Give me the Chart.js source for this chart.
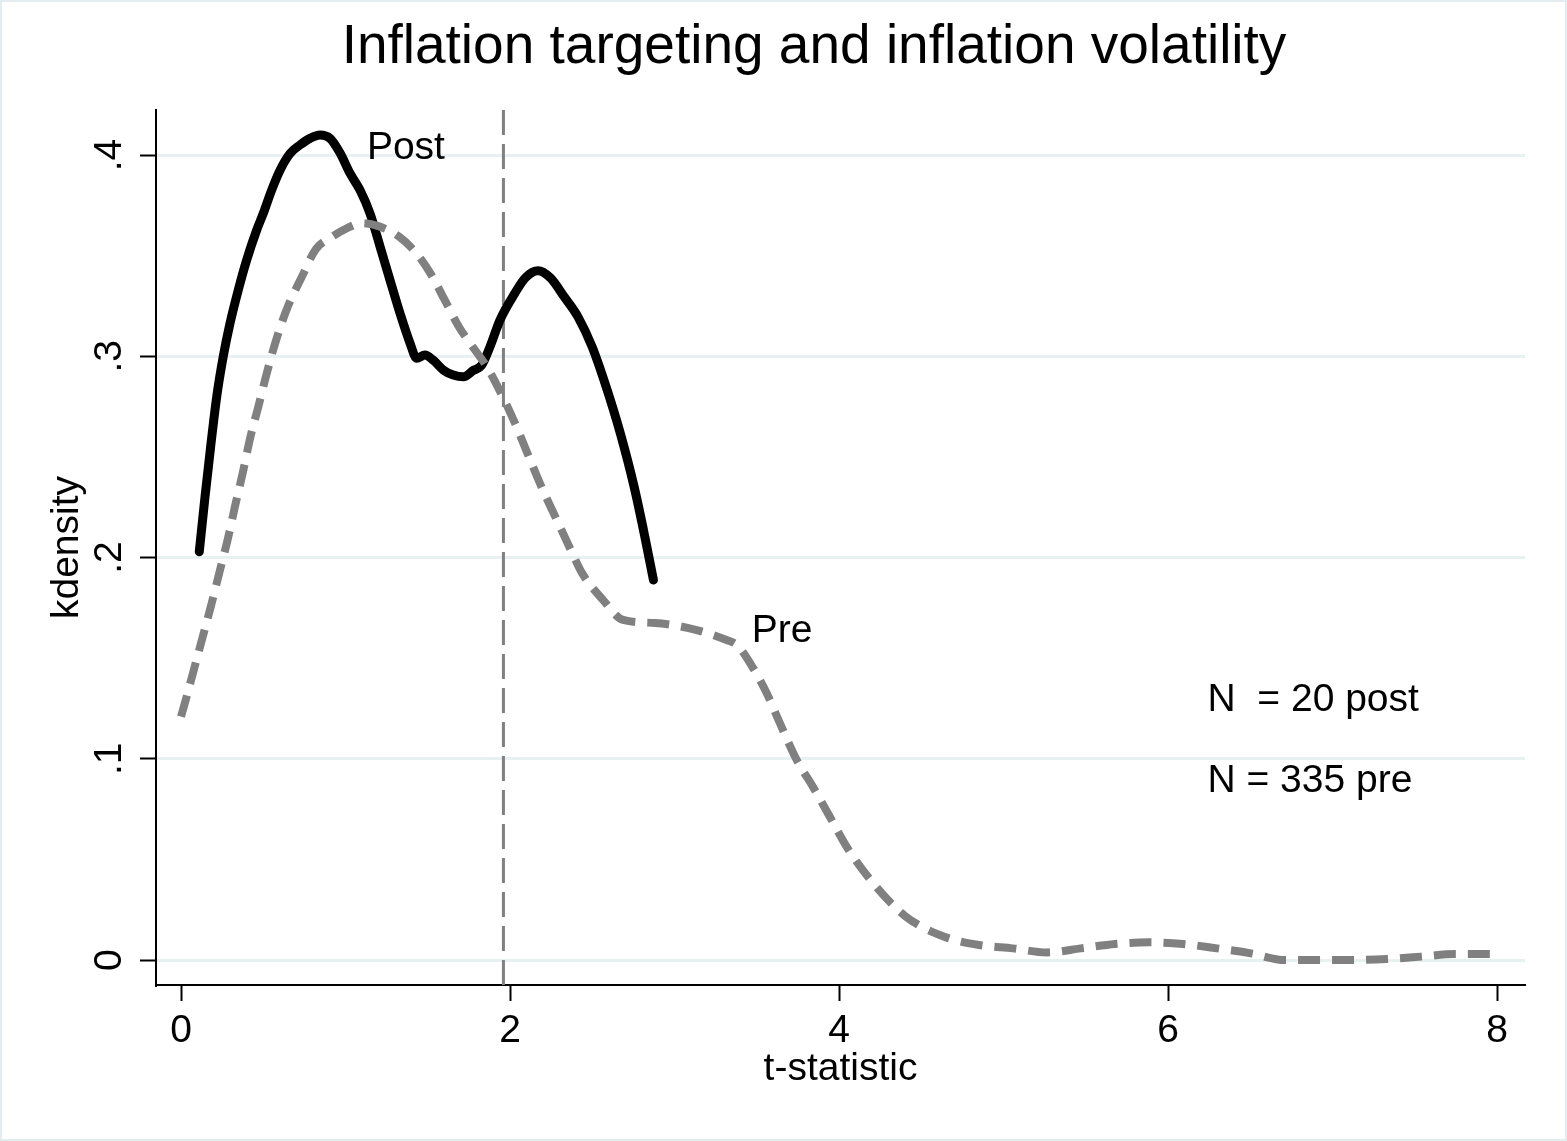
<!DOCTYPE html>
<html>
<head>
<meta charset="utf-8">
<title>Inflation targeting and inflation volatility</title>
<script src="https://cdn.jsdelivr.net/npm/chart.js@4.4.0/dist/chart.umd.min.js"></script>
<style>
  html, body { margin: 0; padding: 0; background: #fff; }
  #wrap { width: 1567px; height: 1141px; }
</style>
</head>
<body>
<div id="wrap"><canvas id="kdChart" width="1567" height="1141"></canvas></div>
<script>
// kernel density estimates
const postX = [0.111, 0.146, 0.18, 0.217, 0.257, 0.298, 0.348, 0.399, 0.46, 0.5, 0.551, 0.602, 0.663, 0.723, 0.784,
    0.845, 0.906, 0.967, 1.027, 1.088, 1.149, 1.21, 1.27, 1.331, 1.392, 1.433, 1.483, 1.534, 1.595, 1.655, 1.716,
    1.777, 1.828, 1.878, 1.939, 2.03, 2.093, 2.17, 2.245, 2.33, 2.414, 2.5, 2.585, 2.67, 2.755, 2.82, 2.872];
const postY = [0.2029, 0.2302, 0.255, 0.2799, 0.3, 0.3164, 0.3329, 0.3478, 0.3627, 0.371, 0.3826, 0.3925, 0.4008, 0.405, 0.4083,
    0.41, 0.4083, 0.401, 0.391, 0.3826, 0.371, 0.3545, 0.338, 0.3215, 0.3066, 0.299, 0.3006, 0.298, 0.2932, 0.2907, 0.2898,
    0.293, 0.2956, 0.3047, 0.318, 0.3314, 0.339, 0.3425, 0.339, 0.3295, 0.3195, 0.3046, 0.2847, 0.2619, 0.235, 0.2102, 0.1888];

const preX = [0.0, 0.02, 0.075, 0.13, 0.182, 0.233, 0.284, 0.328, 0.375, 0.422, 0.47, 0.521, 0.578, 0.643, 0.734,
    0.82, 0.91, 1.007, 1.1, 1.2, 1.325, 1.433, 1.518, 1.603, 1.69, 1.774, 1.86, 1.945, 2.03, 2.115, 2.2,
    2.285, 2.37, 2.44, 2.565, 2.687, 2.88, 3.135, 3.317, 3.38, 3.459, 3.56, 3.64, 3.743, 3.842, 3.945, 4.047,
    4.19, 4.4, 4.64, 4.85, 5.057, 5.263, 5.47, 5.677, 5.885, 6.09, 6.298, 6.505, 6.71, 6.92, 7.12, 7.33,
    7.54, 7.745, 7.95, 8.0];
const preY = [0.121, 0.1267, 0.1433, 0.16, 0.1759, 0.1925, 0.209, 0.2254, 0.242, 0.26, 0.275, 0.2915, 0.308, 0.3234, 0.3394,
    0.3533, 0.359, 0.3636, 0.3662, 0.3647, 0.3595, 0.351, 0.341, 0.328, 0.3146, 0.3046, 0.2947, 0.2817, 0.2668, 0.25, 0.2335,
    0.2186, 0.2037, 0.192, 0.179, 0.169, 0.1675, 0.164, 0.159, 0.1565, 0.1476, 0.1327, 0.1178, 0.0994, 0.086, 0.0711, 0.0562,
    0.04, 0.022, 0.0116, 0.0075, 0.0058, 0.0038, 0.0058, 0.008, 0.0088, 0.008, 0.0058, 0.0033, 0.0, 0.0, 0.0, 0.0005,
    0.0017, 0.003, 0.003, 0.003];

// 5% critical value marker
const critX = 1.96;

const xTicks = [0, 2, 4, 6, 8];
const yTicks = [0, 0.1, 0.2, 0.3, 0.4];
const yTickLabels = ['0', '.1', '.2', '.3', '.4'];
const xRange = [-0.152, 8.17];
const yRange = [-0.0124, 0.4224];

const titleText = 'Inflation targeting and inflation volatility';
const noteTexts = ['Post', 'Pre', 'N  = 20 post', 'N = 335 pre'];
const noteX = [1.13, 3.47, 6.24, 6.24];
const noteY = [0.4035, 0.1635, 0.129, 0.089];

const FONT = '"Liberation Sans", Arial, Helvetica, sans-serif';

const toPoints = (xs, ys) => xs.map((x, i) => ({ x, y: ys[i] }));

// white background, light frame and the title (centred like the original, not on the canvas)
const framePlugin = {
    id: 'frame',
    beforeDraw(chart) {
        const { ctx, width, height } = chart;
        ctx.save();
        ctx.fillStyle = '#ffffff';
        ctx.fillRect(0, 0, width, height);
        ctx.strokeStyle = '#e3ecef';
        ctx.lineWidth = 4;
        ctx.strokeRect(0, 0, width, height);
        ctx.fillStyle = '#000';
        ctx.font = '55px ' + FONT;
        ctx.textAlign = 'center';
        ctx.textBaseline = 'middle';
        ctx.fillText(titleText, 814, 48);
        ctx.restore();
    }
};

// text labels placed in data coordinates
const notesPlugin = {
    id: 'notes',
    afterDatasetsDraw(chart) {
        const { ctx, scales: { x, y } } = chart;
        ctx.save();
        ctx.fillStyle = '#000';
        ctx.font = '39px ' + FONT;
        ctx.textAlign = 'left';
        ctx.textBaseline = 'middle';
        noteTexts.forEach((t, i) => {
            ctx.fillText(t, x.getPixelForValue(noteX[i]), y.getPixelForValue(noteY[i]));
        });
        ctx.restore();
    }
};

const ctx = document.getElementById('kdChart').getContext('2d');
new Chart(ctx, {
    type: 'line',
    data: {
        datasets: [
            {
                label: 'Pre',
                data: toPoints(preX, preY),
                borderColor: '#808080',
                borderWidth: 8,
                borderDash: [22, 12],
                borderCapStyle: 'butt',
                cubicInterpolationMode: 'monotone',
                pointRadius: 0,
                fill: false
            },
            {
                label: 'Post',
                data: toPoints(postX, postY),
                borderColor: '#000000',
                borderWidth: 9,
                borderCapStyle: 'round',
                borderJoinStyle: 'round',
                cubicInterpolationMode: 'monotone',
                pointRadius: 0,
                fill: false
            },
            {
                label: 'critical',
                data: [{ x: critX, y: yRange[0] }, { x: critX, y: yRange[1] }],
                borderColor: '#808080',
                borderWidth: 3,
                borderDash: [25, 9],
                pointRadius: 0,
                clip: false,
                fill: false
            }
        ]
    },
    options: {
        responsive: false,
        animation: false,
        layout: { padding: { left: 0, right: 42, top: 110, bottom: 0 } },
        plugins: {
            legend: { display: false },
            tooltip: { enabled: false },
            title: { display: false }
        },
        scales: {
            x: {
                type: 'linear',
                min: xRange[0],
                max: xRange[1],
                afterBuildTicks: s => { s.ticks = xTicks.map(v => ({ value: v })); },
                afterFit: s => { s.height = 156; },
                grid: { drawOnChartArea: false, drawTicks: true, tickLength: 16, tickColor: '#000', tickWidth: 2 },
                border: { display: true, color: '#000', width: 2 },
                ticks: { color: '#000', padding: 7, font: { family: FONT, size: 39 }, maxRotation: 0 },
                title: {
                    display: true,
                    text: 't-statistic',
                    color: '#000',
                    font: { family: FONT, size: 39 },
                    padding: { top: 0, bottom: 48 }
                }
            },
            y: {
                type: 'linear',
                min: yRange[0],
                max: yRange[1],
                afterBuildTicks: s => { s.ticks = yTicks.map(v => ({ value: v })); },
                afterFit: s => { s.width = 156; },
                grid: { color: '#e8f0f2', lineWidth: 3, drawTicks: true, tickLength: 16, tickColor: '#000', tickWidth: 2 },
                border: { display: true, color: '#000', width: 2 },
                ticks: {
                    color: '#000',
                    padding: 13,
                    minRotation: 90,
                    maxRotation: 90,
                    crossAlign: 'center',
                    font: { family: FONT, size: 39 },
                    callback: (v, i) => yTickLabels[i]
                },
                title: {
                    display: true,
                    text: 'kdensity',
                    color: '#000',
                    font: { family: FONT, size: 39 },
                    padding: { top: 44, bottom: 0 }
                }
            }
        }
    },
    plugins: [framePlugin, notesPlugin]
});
</script>
</body>
</html>
